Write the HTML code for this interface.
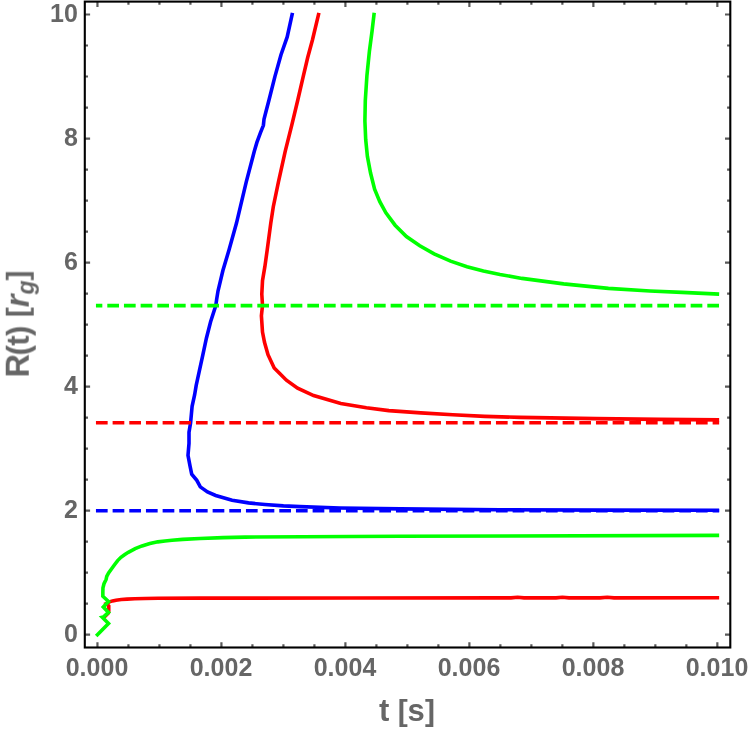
<!DOCTYPE html>
<html><head><meta charset="utf-8"><title>R(t)</title>
<style>
html,body{margin:0;padding:0;background:#fff;}
body{width:750px;height:731px;position:relative;overflow:hidden;font-family:"Liberation Sans",sans-serif;font-weight:bold;color:#666;}
.tl{position:absolute;font-size:25px;line-height:1;white-space:nowrap;will-change:transform;}
.yl{right:671.9px;transform:translateY(-50%);}
.xl{top:654.8px;transform:translateX(-50%);}
.xt{position:absolute;left:407.2px;top:695.2px;font-size:31px;letter-spacing:-0.2px;line-height:1;transform:translateX(-50%);white-space:nowrap;will-change:transform;}
.yt{position:absolute;left:18px;top:323.7px;font-size:32.5px;letter-spacing:-0.65px;line-height:1;white-space:nowrap;transform:translate(-50%,-50%) rotate(-90deg);will-change:transform;}
.yt i{font-style:italic;}
.yt sub{font-size:23px;vertical-align:baseline;position:relative;top:4.8px;font-style:italic;}
.yt .p{font-size:31px;margin-left:-0.8px;margin-right:0.8px;}
.yt .b{font-size:30px;position:relative;top:-1.2px;}
.yt .g{letter-spacing:0;}
.xt .b{font-size:30px;}
.xt .b2{margin-left:0.6px;}
</style></head><body>
<svg width="750" height="731" viewBox="0 0 750 731" style="position:absolute;left:0;top:0">
<polyline points="104.90,616.50 108.30,613.00 108.75,611.00 108.75,606.00 106.30,603.50 109.50,601.80 112.50,600.90 116.00,600.20 121.30,599.50 127.00,599.10 134.70,598.80 145.00,598.50 158.00,598.25 200.00,598.10 350.00,598.05 500.00,597.90 511.00,597.90 517.60,597.30 524.00,597.90 556.00,597.90 562.40,597.30 569.00,597.90 600.00,597.90 607.20,597.30 614.00,597.90 717.35,597.80" fill="none" stroke="#ff0000" stroke-width="3.6" stroke-linecap="square" stroke-linejoin="miter" stroke-miterlimit="4"/>
<polyline points="318.50,14.60 312.50,39.70 307.70,57.50 303.20,76.60 297.80,100.00 291.90,124.60 285.20,151.30 278.40,182.10 273.30,206.70 270.80,223.10 267.20,250.00 264.90,266.40 262.50,280.80 261.80,294.10 262.50,305.40 261.40,315.70 262.50,332.10 264.50,342.30 268.00,354.70 274.20,368.00 280.00,373.80 286.40,380.20 297.60,388.20 313.60,395.60 340.80,403.60 366.40,407.80 388.80,410.60 420.80,412.90 452.80,414.80 484.80,416.40 520.00,417.40 596.00,418.60 660.00,419.40 717.35,419.85" fill="none" stroke="#ff0000" stroke-width="3.6" stroke-linecap="square" stroke-linejoin="miter" stroke-miterlimit="4"/>
<polyline points="292.10,14.60 287.20,36.90 281.00,54.70 274.90,76.60 269.00,100.00 265.80,112.30 264.00,119.20 263.40,125.30 260.40,132.80 256.90,142.40 254.30,151.30 246.20,182.10 240.40,206.70 236.50,223.10 229.00,250.00 222.90,270.50 218.00,291.00 216.70,299.00 215.80,305.60 210.60,321.80 206.40,338.20 202.90,354.70 199.30,371.10 196.20,385.40 194.60,395.00 192.10,406.40 190.60,422.80 189.00,432.10 189.00,443.40 188.00,455.30 190.00,465.90 191.70,474.10 196.80,480.30 200.30,486.90 207.50,492.00 215.70,495.50 232.10,500.20 248.50,502.90 264.90,504.50 283.40,505.90 300.00,506.60 340.00,508.00 400.00,508.90 500.00,509.75 600.00,510.10 717.35,510.30" fill="none" stroke="#0000ff" stroke-width="3.6" stroke-linecap="square" stroke-linejoin="miter" stroke-miterlimit="4"/>
<polyline points="374.00,14.60 372.10,30.80 369.40,51.30 366.90,75.90 365.30,100.60 364.90,121.10 365.70,139.50 367.40,156.40 370.50,172.80 374.60,189.20 379.80,201.60 385.90,212.90 395.10,225.20 406.40,236.50 419.80,245.70 434.10,253.90 450.60,261.10 467.00,266.80 483.40,270.90 500.00,274.40 522.00,278.40 563.60,283.90 608.40,288.40 650.00,291.00 682.00,292.40 717.35,294.00" fill="none" stroke="#00ff00" stroke-width="3.6" stroke-linecap="square" stroke-linejoin="miter" stroke-miterlimit="4"/>
<polyline points="97.45,634.70 108.50,623.45 102.31,617.35 103.29,617.11 108.50,612.45 103.30,607.00 108.50,601.50 102.85,596.20 102.85,592.10 102.95,587.90 104.00,583.70 106.10,579.50 106.75,576.45 108.60,573.00 111.80,568.50 114.70,564.50 117.65,560.60 120.95,557.30 124.50,554.75 128.30,552.30 132.00,550.40 135.20,548.70 142.00,545.90 149.90,543.60 157.80,541.85 165.00,540.95 172.00,540.20 182.70,539.40 200.00,538.50 223.00,537.60 245.00,537.10 400.00,536.30 717.35,535.40" fill="none" stroke="#00ff00" stroke-width="3.6" stroke-linecap="square" stroke-linejoin="miter" stroke-miterlimit="4"/>
<line x1="97.75" y1="305.6" x2="717.35" y2="305.6" stroke="#00ff00" stroke-width="3.6" stroke-dasharray="8.1 8.567" stroke-dashoffset="5.32" stroke-linecap="square"/>
<line x1="97.75" y1="422.8" x2="717.35" y2="422.8" stroke="#ff0000" stroke-width="3.6" stroke-dasharray="8.1 8.567" stroke-dashoffset="0" stroke-linecap="square"/>
<line x1="97.75" y1="510.7" x2="717.35" y2="510.7" stroke="#0000ff" stroke-width="3.6" stroke-dasharray="8.1 8.567" stroke-dashoffset="0" stroke-linecap="square"/>
<path d="M97.45 647.5 v-5.3 M97.45 1.6 v5.3 M128.44 647.5 v-3.2 M128.44 1.6 v3.2 M159.44 647.5 v-3.2 M159.44 1.6 v3.2 M190.44 647.5 v-3.2 M190.44 1.6 v3.2 M221.43 647.5 v-5.3 M221.43 1.6 v5.3 M252.43 647.5 v-3.2 M252.43 1.6 v3.2 M283.42 647.5 v-3.2 M283.42 1.6 v3.2 M314.42 647.5 v-3.2 M314.42 1.6 v3.2 M345.41 647.5 v-5.3 M345.41 1.6 v5.3 M376.41 647.5 v-3.2 M376.41 1.6 v3.2 M407.40 647.5 v-3.2 M407.40 1.6 v3.2 M438.39 647.5 v-3.2 M438.39 1.6 v3.2 M469.39 647.5 v-5.3 M469.39 1.6 v5.3 M500.39 647.5 v-3.2 M500.39 1.6 v3.2 M531.38 647.5 v-3.2 M531.38 1.6 v3.2 M562.38 647.5 v-3.2 M562.38 1.6 v3.2 M593.37 647.5 v-5.3 M593.37 1.6 v5.3 M624.37 647.5 v-3.2 M624.37 1.6 v3.2 M655.36 647.5 v-3.2 M655.36 1.6 v3.2 M686.36 647.5 v-3.2 M686.36 1.6 v3.2 M717.35 647.5 v-5.3 M717.35 1.6 v5.3 M84.8 634.70 h5.3 M730.3 634.70 h-5.3 M84.8 603.69 h3.2 M730.3 603.69 h-3.2 M84.8 572.68 h3.2 M730.3 572.68 h-3.2 M84.8 541.67 h3.2 M730.3 541.67 h-3.2 M84.8 510.66 h5.3 M730.3 510.66 h-5.3 M84.8 479.65 h3.2 M730.3 479.65 h-3.2 M84.8 448.64 h3.2 M730.3 448.64 h-3.2 M84.8 417.63 h3.2 M730.3 417.63 h-3.2 M84.8 386.62 h5.3 M730.3 386.62 h-5.3 M84.8 355.61 h3.2 M730.3 355.61 h-3.2 M84.8 324.60 h3.2 M730.3 324.60 h-3.2 M84.8 293.59 h3.2 M730.3 293.59 h-3.2 M84.8 262.58 h5.3 M730.3 262.58 h-5.3 M84.8 231.57 h3.2 M730.3 231.57 h-3.2 M84.8 200.56 h3.2 M730.3 200.56 h-3.2 M84.8 169.55 h3.2 M730.3 169.55 h-3.2 M84.8 138.54 h5.3 M730.3 138.54 h-5.3 M84.8 107.53 h3.2 M730.3 107.53 h-3.2 M84.8 76.52 h3.2 M730.3 76.52 h-3.2 M84.8 45.51 h3.2 M730.3 45.51 h-3.2 M84.8 14.50 h5.3 M730.3 14.50 h-5.3" stroke="#5a5a5a" stroke-width="2.2" fill="none"/>
<rect x="84.8" y="1.6" width="645.5" height="645.9" fill="none" stroke="#000" stroke-width="2.1"/>
</svg>
<div class="tl yl" style="top:633.30px">0</div>
<div class="tl yl" style="top:509.26px">2</div>
<div class="tl yl" style="top:385.22px">4</div>
<div class="tl yl" style="top:261.18px">6</div>
<div class="tl yl" style="top:137.14px">8</div>
<div class="tl yl" style="top:13.10px">10</div>
<div class="tl xl" style="left:97.45px">0.000</div>
<div class="tl xl" style="left:221.43px">0.002</div>
<div class="tl xl" style="left:345.41px">0.004</div>
<div class="tl xl" style="left:469.39px">0.006</div>
<div class="tl xl" style="left:593.37px">0.008</div>
<div class="tl xl" style="left:717.35px">0.010</div>
<div class="xt">t <span class="b">[</span>s<span class="b b2">]</span></div>
<div class="yt">R<span class="p">(t)</span> <span class="g"><span class="b">[</span><i>r</i><sub>g</sub><span class="b">]</span></span></div>
</body></html>
